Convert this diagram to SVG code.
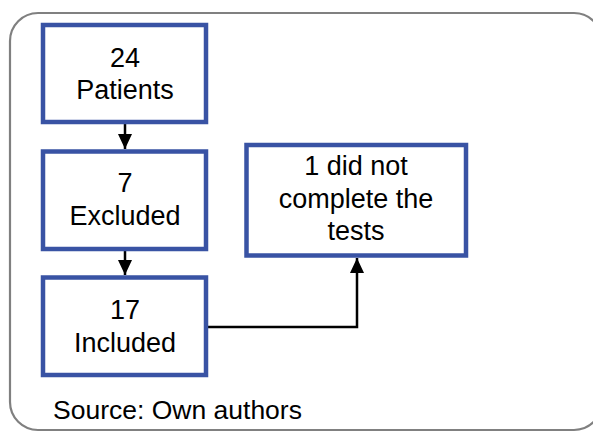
<svg xmlns="http://www.w3.org/2000/svg" width="593" height="432" viewBox="0 0 593 432">
<style>
.box{fill:#fff;stroke:#3953a4;stroke-width:4.5}
.t{font-family:"Liberation Sans",Arial,sans-serif;font-size:27px;fill:#000;text-anchor:middle}
.c{fill:none;stroke:#000;stroke-width:2.5}
</style>
<defs>
<marker id="ah" markerWidth="16" markerHeight="14" refX="15" refY="7" orient="auto" markerUnits="userSpaceOnUse">
<path d="M0,0 L15,7 L0,14 Z" fill="#000"/>
</marker>
</defs>
<rect x="0" y="0" width="593" height="432" fill="#fff"/>
<rect x="10" y="13" width="592" height="417" rx="28" ry="28" fill="none" stroke="#808080" stroke-width="2.2"/>
<g id="connectors">
<line class="c" x1="125" y1="124" x2="125" y2="149" marker-end="url(#ah)"/>
<line class="c" x1="125" y1="251" x2="125" y2="275" marker-end="url(#ah)"/>
<polyline class="c" points="208,327 357,327 357,258" marker-end="url(#ah)"/>
</g>
<g id="n1">
<rect class="box" x="43" y="25" width="163" height="97"/>
<text class="t" x="125" y="66.5">24</text>
<text class="t" x="125" y="98.5">Patients</text>
</g>
<g id="n2">
<rect class="box" x="43" y="151.5" width="163" height="97.5"/>
<text class="t" x="125" y="192">7</text>
<text class="t" x="125" y="225">Excluded</text>
</g>
<g id="n3">
<rect class="box" x="43" y="277.5" width="163" height="97.5"/>
<text class="t" x="125" y="318.5">17</text>
<text class="t" x="125" y="351.5">Included</text>
</g>
<g id="n4">
<rect class="box" x="246.5" y="145" width="219.5" height="110.5"/>
<text class="t" x="356" y="175">1 did not</text>
<text class="t" x="356" y="208">complete the</text>
<text class="t" x="356" y="240">tests</text>
</g>
<text x="53" y="419" font-family="Liberation Sans,Arial,sans-serif" font-size="26.5" fill="#000">Source: Own authors</text>
</svg>
